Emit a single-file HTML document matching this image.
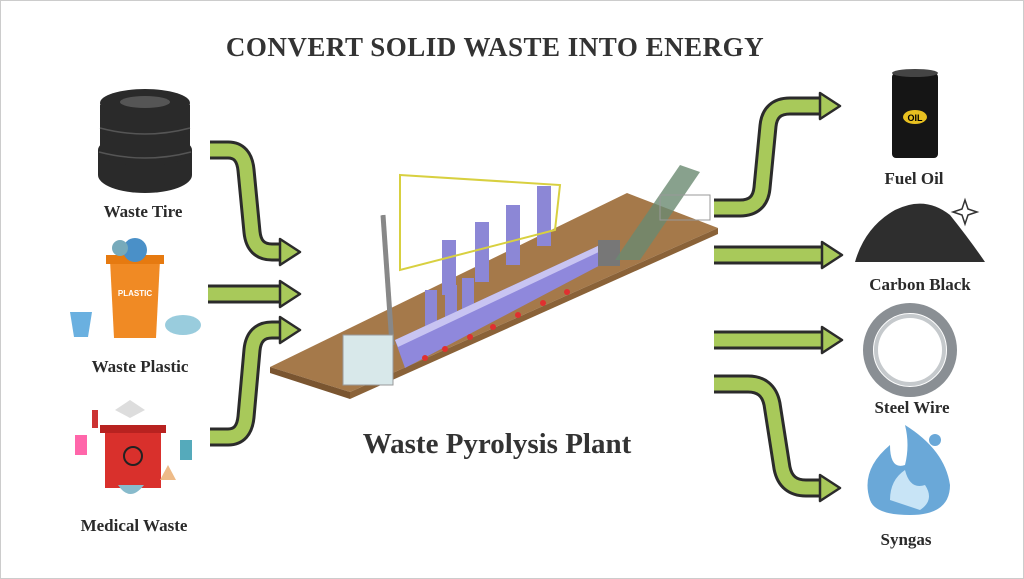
<!DOCTYPE html>
<html><head><meta charset="utf-8"><style>
body{margin:0;width:1024px;height:579px;background:#fff;overflow:hidden;font-family:"Liberation Serif",serif;}
.lbl{position:absolute;font-weight:bold;font-size:17px;color:#2a2a2a;text-align:center;width:200px;font-family:"Liberation Serif",serif;}
</style></head><body>
<div style="position:absolute;left:0;top:0;width:1022px;height:577px;border:1px solid #ccc;"></div>
<div style="position:absolute;left:0;width:990px;top:32px;text-align:center;font-size:27px;font-weight:bold;color:#333;letter-spacing:0.5px;">CONVERT SOLID WASTE INTO ENERGY</div>
<div style="position:absolute;left:297px;width:400px;top:428px;text-align:center;font-size:29px;font-weight:bold;color:#333;">Waste Pyrolysis Plant</div>
<div class="lbl" style="left:43px;top:202px">Waste Tire</div>
<div class="lbl" style="left:40px;top:357px">Waste Plastic</div>
<div class="lbl" style="left:34px;top:516px">Medical Waste</div>
<div class="lbl" style="left:814px;top:169px">Fuel Oil</div>
<div class="lbl" style="left:820px;top:275px">Carbon Black</div>
<div class="lbl" style="left:812px;top:398px">Steel Wire</div>
<div class="lbl" style="left:806px;top:530px">Syngas</div>
<svg width="1024" height="579" style="position:absolute;left:0;top:0">
<g fill="#2a2a2a"><ellipse cx="145" cy="175" rx="47" ry="18"/><rect x="98" y="150" width="94" height="25"/><ellipse cx="145" cy="150" rx="47" ry="16"/>
<rect x="100" y="128" width="90" height="22"/><ellipse cx="145" cy="128" rx="45" ry="15"/><rect x="100" y="105" width="90" height="23"/><ellipse cx="145" cy="103" rx="45" ry="14"/></g>
<g stroke="#555" stroke-width="1.5" fill="none"><path d="M100 128q45 12 90 0"/><path d="M99 152q46 12 92 0"/></g>
<ellipse cx="145" cy="102" rx="25" ry="6" fill="#555"/>
<path d="M110 260h50l-4 78h-42z" fill="#f08a24"/><rect x="106" y="255" width="58" height="9" fill="#e67a10"/>
<circle cx="135" cy="250" r="12" fill="#4a90c8"/><circle cx="120" cy="248" r="8" fill="#7ab"/>
<text x="135" y="296" font-size="8" fill="#fff" font-family="Liberation Sans" text-anchor="middle" font-weight="bold">PLASTIC</text>
<path d="M70 312h22l-4 25h-14z" fill="#6ab0e0"/><ellipse cx="183" cy="325" rx="18" ry="10" fill="#9cd" />
<rect x="105" y="430" width="56" height="58" fill="#d9302c"/><rect x="100" y="425" width="66" height="8" fill="#b82220"/>
<circle cx="133" cy="456" r="9" fill="none" stroke="#222" stroke-width="2"/>
<path d="M115 410l15-10 15 10-15 8z" fill="#ddd"/><path d="M118 485q12 18 26 0z" fill="#8bc" />
<rect x="75" y="435" width="12" height="20" fill="#f6a"/><path d="M180 440h12v20h-12z" fill="#5ab"/>
<path d="M160 480l8-15 8 15z" fill="#eb8"/><rect x="92" y="410" width="6" height="18" fill="#c33"/>
<polygon points="270,367 627,193 718,228 350,392" fill="#a5794a"/>
<polygon points="270,367 350,392 350,399 270,373" fill="#7a5530"/>
<polygon points="350,392 718,228 718,234 350,399" fill="#8a6238"/>
<line x1="383" y1="215" x2="392" y2="345" stroke="#888" stroke-width="5"/>
<g fill="#8c87d6"><rect x="442" y="240" width="14" height="55"/><rect x="475" y="222" width="14" height="60"/><rect x="506" y="205" width="14" height="60"/><rect x="537" y="186" width="14" height="60"/>
<rect x="425" y="290" width="12" height="40"/><rect x="445" y="285" width="12" height="38"/><rect x="462" y="278" width="12" height="38"/></g>
<path d="M400 175L560 185 555 230 400 270z" fill="none" stroke="#d8d040" stroke-width="2"/>
<path d="M395 340L600 245 610 260 405 368z" fill="#8f88dc"/><path d="M395 340L600 245 603 250 398 347z" fill="#c8c4f2"/>
<rect x="598" y="240" width="22" height="26" fill="#777"/>
<g fill="#e03030"><circle cx="425" cy="358" r="3"/><circle cx="445" cy="349" r="3"/><circle cx="470" cy="337" r="3"/><circle cx="493" cy="327" r="3"/><circle cx="518" cy="315" r="3"/><circle cx="543" cy="303" r="3"/><circle cx="567" cy="292" r="3"/></g>
<rect x="343" y="335" width="50" height="50" fill="#d8e8ea" stroke="#999"/>
<path d="M615 260L680 165 700 172 640 260z" fill="#6a8a70" opacity=".8"/><path d="M660 195h50v25h-50z" fill="none" stroke="#999"/>
<rect x="892" y="73" width="46" height="85" rx="4" fill="#151515"/><ellipse cx="915" cy="73" rx="23" ry="4" fill="#444"/>
<ellipse cx="915" cy="117" rx="12" ry="7" fill="#e8c020"/><text x="915" y="121" font-size="9" text-anchor="middle" font-family="Liberation Sans" font-weight="bold">OIL</text>
<path d="M855 262q10-35 40-52 30-15 55 5 20 25 35 47z" fill="#2e2e2e"/>
<path d="M965 200l3 9 9 3-9 3-3 9-3-9-9-3 9-3z" fill="none" stroke="#333" stroke-width="1.5"/>
<circle cx="910" cy="350" r="42" fill="none" stroke="#8a8f94" stroke-width="10"/><circle cx="910" cy="350" r="34" fill="none" stroke="#c5c9cc" stroke-width="4"/>
<path d="M870 500q-10-30 20-55 0 25 15 20 5-20 0-40 40 25 45 60 0 30-40 30-35 0-40-15z" fill="#6aa8d8"/>
<path d="M890 500q0-20 15-30 5 20 20 15 10 15-5 25z" fill="#c8e4f6"/><circle cx="935" cy="440" r="6" fill="#6aa8d8"/>
<g fill="none" stroke-linejoin="round">
<g stroke="#2b2b2b" stroke-width="19">
<path d="M210 150H228Q244 150 246 170L252 232Q254 252 272 252H282"/>
<path d="M208 294H282"/>
<path d="M210 437H228Q244 437 246 417L252 350Q254 330 272 330H282"/>
<path d="M714 208H740Q760 208 762 188L768 126Q770 106 790 106H822"/>
<path d="M714 255H824"/>
<path d="M714 340H824"/>
<path d="M714 384H748Q768 384 772 404L782 468Q786 488 806 488H822"/>
</g>
<g stroke="#a8c95a" stroke-width="13">
<path d="M210 150H228Q244 150 246 170L252 232Q254 252 272 252H284"/>
<path d="M208 294H284"/>
<path d="M210 437H228Q244 437 246 417L252 350Q254 330 272 330H284"/>
<path d="M714 208H740Q760 208 762 188L768 126Q770 106 790 106H824"/>
<path d="M714 255H826"/>
<path d="M714 340H826"/>
<path d="M714 384H748Q768 384 772 404L782 468Q786 488 806 488H824"/>
</g></g>
<g fill="#a8c95a" stroke="#2b2b2b" stroke-width="2.5" stroke-linejoin="round">
<polygon points="280,239 300,252 280,265"/><polygon points="280,281 300,294 280,307"/><polygon points="280,317 300,330 280,343"/>
<polygon points="820,93 840,106 820,119"/><polygon points="822,242 842,255 822,268"/><polygon points="822,327 842,340 822,353"/><polygon points="820,475 840,488 820,501"/>
</g>
</svg>
</body></html>
